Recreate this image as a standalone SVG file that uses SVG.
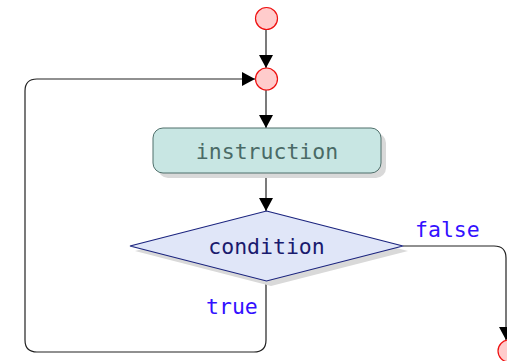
<svg xmlns="http://www.w3.org/2000/svg" width="507" height="361" viewBox="0 0 507 361">
  <defs>
    <marker id="arrow" viewBox="0 0 13 14" refX="13" refY="7" markerWidth="13" markerHeight="14" markerUnits="userSpaceOnUse" orient="auto">
      <path d="M0,0 L13,7 L0,14 Z" fill="#000"/>
    </marker>
  </defs>
  <style>
    .point { fill: #ffcccc; stroke: #ee1111; stroke-width: 1.2; }
    .edge { fill: none; stroke: #222; stroke-width: 1.2; }
    .shadow { fill: #d9d9d9; }
    .label { font-family: "DejaVu Sans Mono", "Liberation Mono", monospace; font-size: 21.5px; }
    .guard { fill: #3311ff; }
  </style>

  <g id="connectors">
    <line class="edge" x1="266" y1="30" x2="266" y2="68" marker-end="url(#arrow)"/>
    <line class="edge" x1="266" y1="90" x2="266" y2="128" marker-end="url(#arrow)"/>
    <line class="edge" x1="266" y1="173" x2="266" y2="211" marker-end="url(#arrow)"/>
    <!-- true branch: back up to the merge point -->
    <path class="edge" d="M266,281 V340 Q266,352 254,352 H37 Q25,352 25,340 V91 Q25,79 37,79 H255" marker-end="url(#arrow)"/>
    <!-- false branch -->
    <path class="edge" d="M403,246 H494 Q506,246 506,258 V340" marker-end="url(#arrow)"/>
    <text class="label guard" x="415" y="237">false</text>
    <text class="label guard" x="206" y="314">true</text>
  </g>

  <g id="start">
    <circle class="point" cx="266.5" cy="18.5" r="11"/>
  </g>

  <g id="merge">
    <circle class="point" cx="266.5" cy="79" r="11"/>
  </g>

  <g id="instruction">
    <rect class="shadow" x="158" y="133" width="228" height="45" rx="10"/>
    <rect x="153" y="128" width="228" height="45" rx="10" fill="#c8e6e3" stroke="#4f6f6b" stroke-width="1"/>
    <text class="label" x="267" y="159" text-anchor="middle" fill="#4a6a66">instruction</text>
  </g>

  <g id="condition">
    <polygon class="shadow" points="271,216 408,251 271,286 135,251"/>
    <polygon points="266.5,211 403,246 266.5,281 130,246" fill="#e0e6f8" stroke="#1a237e" stroke-width="1.2"/>
    <text class="label" x="266.5" y="254" text-anchor="middle" fill="#1a1a6e">condition</text>
  </g>

  <g id="end">
    <circle class="point" cx="509" cy="351" r="11"/>
  </g>
</svg>
